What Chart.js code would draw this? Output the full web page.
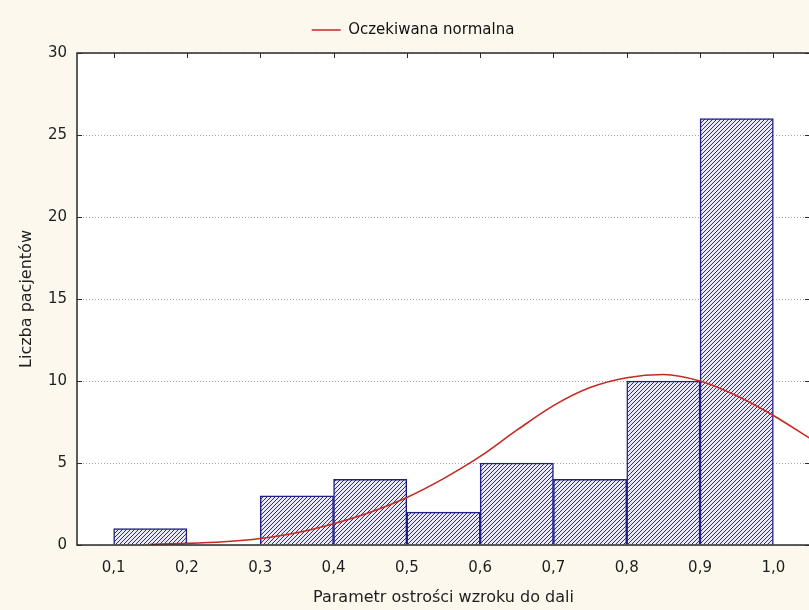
<!DOCTYPE html>
<html lang="pl">
<head>
<meta charset="utf-8">
<title>Parametr ostrości wzroku do dali</title>
<script src="https://cdn.jsdelivr.net/npm/chart.js@4.4.1/dist/chart.umd.min.js"></script>
<style>
  html, body { margin: 0; padding: 0; background: #fcf8ee; overflow: hidden; }
  #wrap { width: 812px; height: 610px; }
</style>
</head>
<body>
<div id="wrap"><canvas id="hist" width="812" height="610"></canvas></div>
<script>
// Histogram bins (lower / upper edges) and number of patients in each bin
const binLower = [0.1, 0.2, 0.3, 0.4, 0.5, 0.6, 0.7, 0.8, 0.9];
const binUpper = [0.2, 0.3, 0.4, 0.5, 0.6, 0.7, 0.8, 0.9, 1.0];
const patientCounts = [1, 0, 3, 4, 2, 5, 4, 10, 26];

// Expected normal curve, sampled along the axis
const normalX = [0.15, 0.2, 0.25, 0.3, 0.35, 0.4, 0.45, 0.5, 0.55, 0.6, 0.65, 0.7, 0.75, 0.8, 0.85, 0.9, 0.95, 1.0, 1.05];
const normalY = [0.05, 0.1, 0.2, 0.4, 0.75, 1.3, 2.0, 2.9, 4.05, 5.4, 7.0, 8.5, 9.6, 10.2, 10.4, 10.0, 9.1, 7.9, 6.5];

// Axis ticks
const xTickValues = [0.1, 0.2, 0.3, 0.4, 0.5, 0.6, 0.7, 0.8, 0.9, 1.0];
const xTickLabels = ['0,1', '0,2', '0,3', '0,4', '0,5', '0,6', '0,7', '0,8', '0,9', '1,0'];
const yTickValues = [0, 5, 10, 15, 20, 25, 30];
const yTickLabels = ['0', '5', '10', '15', '20', '25', '30'];

const CREAM = '#fcf8ee';
const TEXT = '#1e1e1e';

// Diagonal "////" hatch used to fill the bars
function makeHatch() {
  const size = 4;
  const c = document.createElement('canvas');
  c.width = size; c.height = size;
  const g = c.getContext('2d');
  g.fillStyle = '#e8e8f4';
  g.fillRect(0, 0, size, size);
  g.fillStyle = '#34345a';
  for (let i = 0; i < size; i++) {
    g.fillRect(i, size - 1 - i, 1, 1);
  }
  return g.createPattern(c, 'repeat');
}

// Cream page background with a white plotting area
const backgroundPlugin = {
  id: 'background',
  beforeDraw(chart) {
    const { ctx, chartArea: a } = chart;
    ctx.save();
    ctx.fillStyle = CREAM;
    ctx.fillRect(0, 0, chart.width, chart.height);
    ctx.fillStyle = '#ffffff';
    ctx.fillRect(a.left, a.top, a.right - a.left, a.bottom - a.top);
    ctx.restore();
  }
};

// Box around the plot with inward tick marks on the left, right and top sides
const framePlugin = {
  id: 'frame',
  afterDatasetsDraw(chart) {
    const { ctx, chartArea: a, scales } = chart;
    const x = scales.x, y = scales.y;
    ctx.save();
    ctx.strokeStyle = '#2a2a2a';
    ctx.lineWidth = 1;
    ctx.beginPath();
    y.ticks.forEach(t => {
      const py = Math.round(y.getPixelForValue(t.value)) + 0.5;
      ctx.moveTo(a.left, py); ctx.lineTo(a.left + 5, py);
      ctx.moveTo(a.right, py); ctx.lineTo(a.right - 5, py);
    });
    x.ticks.forEach(t => {
      const px = Math.round(x.getPixelForValue(t.value)) + 0.5;
      ctx.moveTo(px, a.top); ctx.lineTo(px, a.top + 5);
    });
    ctx.stroke();
    ctx.lineWidth = 1.5;
    ctx.strokeRect(a.left, a.top, a.right - a.left, a.bottom - a.top);
    ctx.restore();
  }
};

Chart.defaults.font.family = '"DejaVu Sans", "Liberation Sans", sans-serif';
Chart.defaults.color = TEXT;

const ctx = document.getElementById('hist').getContext('2d');
const hatch = makeHatch();

new Chart(ctx, {
  data: {
    datasets: [
      {
        type: 'line',
        label: 'Oczekiwana normalna',
        data: normalX.map((v, i) => ({ x: v, y: normalY[i] })),
        borderColor: '#c42a22',
        borderWidth: 1.6,
        pointRadius: 0,
        fill: false,
        cubicInterpolationMode: 'monotone',
        order: 0
      },
      {
        type: 'bar',
        label: 'Liczba pacjentów',
        data: binLower.map((lo, i) => ({ x: (lo + binUpper[i]) / 2, y: patientCounts[i] })),
        backgroundColor: hatch,
        borderColor: '#1f1f8c',
        borderWidth: 1.5,
        borderSkipped: 'bottom',
        barPercentage: 1,
        categoryPercentage: 1,
        grouped: false,
        order: 1
      }
    ]
  },
  options: {
    responsive: false,
    animation: false,
    devicePixelRatio: 1,
    layout: { padding: { left: 16, right: 2, top: 12.5, bottom: 0 } },
    plugins: {
      legend: {
        position: 'top',
        labels: {
          filter: item => item.datasetIndex === 0,
          usePointStyle: true,
          pointStyle: 'line',
          pointStyleWidth: 29,
          padding: 10,
          color: '#111',
          font: { size: 15 }
        }
      },
      tooltip: { enabled: false }
    },
    scales: {
      x: {
        type: 'linear',
        position: 'bottom',
        offset: false,
        min: 0.05,
        max: 1.05,
        afterBuildTicks: s => { s.ticks = xTickValues.map(v => ({ value: v })); },
        ticks: {
          callback: (v, i) => xTickLabels[i],
          padding: 14,
          maxRotation: 0,
          autoSkip: false,
          color: TEXT,
          font: { size: 15 }
        },
        grid: { display: false, drawTicks: false, offset: false },
        border: { display: false },
        title: {
          display: true,
          text: 'Parametr ostrości wzroku do dali',
          color: TEXT,
          font: { size: 16 },
          padding: { top: 0, bottom: 3 }
        },
        afterFit: s => { s.height = 65; }
      },
      xTop: {
        type: 'linear',
        position: 'top',
        offset: false,
        min: 0.05,
        max: 1.05,
        ticks: { display: false },
        grid: { display: false, drawTicks: false },
        border: { display: false },
        afterFit: s => { s.height = 5.5; }
      },
      y: {
        type: 'linear',
        min: 0,
        max: 30,
        afterBuildTicks: s => { s.ticks = yTickValues.map(v => ({ value: v })); },
        ticks: {
          callback: (v, i) => yTickLabels[i],
          padding: 10,
          color: TEXT,
          font: { size: 15 }
        },
        grid: { color: '#a6a6a6', lineWidth: 1, drawTicks: false },
        border: { display: false, dash: [1, 2] },
        title: {
          display: true,
          text: 'Liczba pacjentów',
          color: TEXT,
          font: { size: 16 },
          padding: { top: 1.4, bottom: 0 }
        },
        afterFit: s => { s.width = 61; }
      }
    }
  },
  plugins: [backgroundPlugin, framePlugin]
});
</script>
</body>
</html>
